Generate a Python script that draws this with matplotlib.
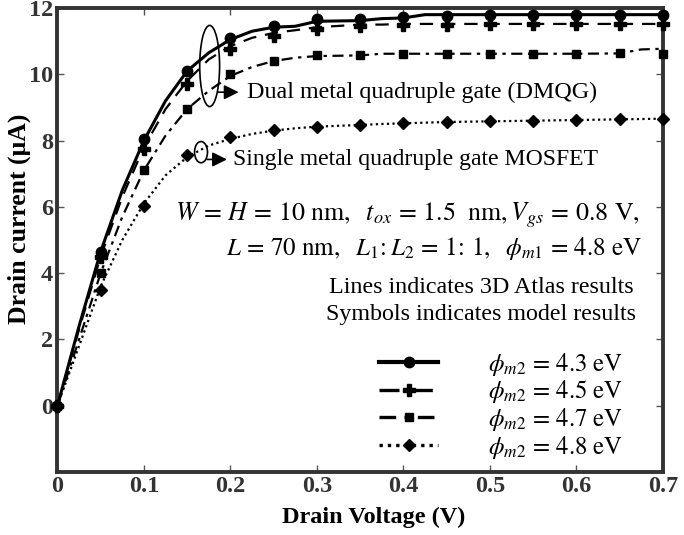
import matplotlib
matplotlib.use("Agg")
import matplotlib.pyplot as plt
from matplotlib.patches import Ellipse

plt.rcParams['font.family'] = ['Liberation Serif', 'DejaVu Serif']
plt.rcParams['mathtext.fontset'] = 'stix'

# model results (symbols)
vd_model = [0, 0.05, 0.1, 0.15, 0.2, 0.25, 0.3, 0.35, 0.4, 0.45, 0.5, 0.55, 0.6, 0.65, 0.7]
m43 = [0, 4.65, 8.05, 10.1, 11.1, 11.45, 11.68, 11.68, 11.73, 11.75, 11.78, 11.78, 11.78, 11.78, 11.8]
m45 = [0, 4.5, 7.75, 9.7, 10.75, 11.15, 11.37, 11.45, 11.5, 11.5, 11.52, 11.52, 11.52, 11.52, 11.52]
m47 = [0, 4.0, 7.1, 8.95, 10.0, 10.4, 10.57, 10.58, 10.6, 10.6, 10.6, 10.6, 10.6, 10.63, 10.62]
m48 = [0, 3.5, 6.03, 7.55, 8.12, 8.33, 8.42, 8.47, 8.52, 8.56, 8.58, 8.6, 8.62, 8.64, 8.66]

# 3D Atlas results (lines)
vd_line = [0, 0.025, 0.05, 0.075, 0.1, 0.125, 0.15, 0.175, 0.2, 0.225, 0.25, 0.275, 0.3,
           0.35, 0.375, 0.4, 0.425, 0.45, 0.5, 0.55, 0.6, 0.65, 0.675, 0.7]
l43 = [0, 2.4, 4.65, 6.5, 8.0, 9.2, 10.1, 10.65, 11.05, 11.3, 11.42, 11.45, 11.6,
       11.62, 11.68, 11.7, 11.8, 11.8, 11.8, 11.8, 11.8, 11.8, 11.8, 11.8]
l45 = [0, 2.3, 4.5, 6.3, 7.8, 8.95, 9.8, 10.45, 10.85, 11.1, 11.25, 11.33, 11.42,
       11.5, 11.5, 11.52, 11.52, 11.52, 11.52, 11.52, 11.52, 11.52, 11.52, 11.52]
l47 = [0, 2.0, 4.0, 5.7, 7.1, 8.15, 8.95, 9.5, 9.95, 10.22, 10.4, 10.5, 10.55,
       10.57, 10.62, 10.62, 10.62, 10.62, 10.62, 10.62, 10.62, 10.63, 10.75, 10.77]
l48 = [0, 1.8, 3.6, 5.0, 6.1, 6.95, 7.5, 7.85, 8.05, 8.2, 8.3, 8.37, 8.42,
       8.47, 8.5, 8.52, 8.54, 8.56, 8.58, 8.6, 8.62, 8.64, 8.65, 8.66]

labels = [r'$\phi_{m2}\,=\,4.3\ \mathrm{eV}$', r'$\phi_{m2}\,=\,4.5\ \mathrm{eV}$',
          r'$\phi_{m2}\,=\,4.7\ \mathrm{eV}$', r'$\phi_{m2}\,=\,4.8\ \mathrm{eV}$']
xticks = [0, 0.1, 0.2, 0.3, 0.4, 0.5, 0.6, 0.7]
xticklabels = ['0', '0.1', '0.2', '0.3', '0.4', '0.5', '0.6', '0.7']
yticks = [0, 2, 4, 6, 8, 10, 12]

fig = plt.figure(figsize=(6.84, 5.35), dpi=100)
ax = fig.add_axes([0.084, 0.118, 0.885, 0.867])

styles = [
    dict(ls='-', lw=2.2, marker='o', ms=7.5),
    dict(ls=(0, (6, 4)), lw=1.6, marker='P', ms=8),
    dict(ls=(0, (5, 2.5, 1.5, 2.5)), lw=1.6, marker='s', ms=5.5),
    dict(ls=(0, (1, 1.5)), lw=1.6, marker='D', ms=6),
]
lines_data = [l43, l45, l47, l48]
model_data = [m43, m45, m47, m48]
for ld, md, st, lab in zip(lines_data, model_data, styles, labels):
    ax.plot(vd_line, ld, color='k', ls=st['ls'], lw=st['lw'], clip_on=False, zorder=3)
    ax.plot(vd_model, md, color='k', ls='none', marker=st['marker'], ms=st['ms'],
            clip_on=False, zorder=4)
    ax.plot([], [], color='k', ls=st['ls'], lw=st['lw'] + 0.8, marker=st['marker'],
            ms=st['ms'], label=lab)

ax.set_xlim(0, 0.7)
ax.set_ylim(-2, 12)
ax.set_xticks(xticks)
ax.set_xticklabels(xticklabels)
ax.set_yticks(yticks)
ax.tick_params(direction='in', top=True, right=True, length=5, width=1,
               color='#555555', labelsize=17.5)
ax.tick_params(axis='x', pad=3)
ax.tick_params(axis='y', pad=3)
for lbl in ax.get_xticklabels() + ax.get_yticklabels():
    lbl.set_fontweight('bold')
    lbl.set_color('#333333')
for sp in ax.spines.values():
    sp.set_linewidth(2.8)
    sp.set_color('#333333')

ax.set_xlabel('Drain Voltage (V)', fontsize=17.5, fontweight='bold')
ax.set_ylabel('Drain current (μA)', fontsize=18.5, fontweight='bold')
ax.xaxis.set_label_coords(0.523, -0.076)
ax.yaxis.set_label_coords(-0.043, 0.545)

# annotations
ax.add_patch(Ellipse((0.176, 10.25), 0.023, 2.45, fill=False, lw=1.2, color='k', zorder=5))
ax.add_patch(Ellipse((0.166, 7.65), 0.015, 0.64, fill=False, lw=1.2, color='k', zorder=5))
ax.annotate('', xy=(0.2095, 9.46), xytext=(0.1855, 9.46),
            arrowprops=dict(arrowstyle='-|>', color='k', lw=1.2, mutation_scale=22,
                            shrinkA=0, shrinkB=0))
ax.annotate('', xy=(0.196, 7.43), xytext=(0.173, 7.43),
            arrowprops=dict(arrowstyle='-|>', color='k', lw=1.2, mutation_scale=22,
                            shrinkA=0, shrinkB=0))
ax.text(0.219, 9.46, 'Dual metal quadruple gate (DMQG)', fontsize=17.3, va='center', ha='left')
ax.text(0.203, 7.43, 'Single metal quadruple gate MOSFET', fontsize=17.1, va='center', ha='left')

ax.text(0.673, 5.74,
        r'$W\,=\,H\,=\,10\ \mathrm{nm},\ \ t_{ox}\,=\,1.5\ \ \mathrm{nm},V_{gs}\,=\,0.8\ \mathrm{V},$',
        fontsize=18.6, ha='right', va='center')
ax.text(0.676, 4.74,
        r'$L\,=\,70\ \mathrm{nm},\ \ L_1\!:L_2\,=\,1\!:\,1,\ \ \phi_{m1}\,=\,4.8\ \mathrm{eV}$',
        fontsize=18.0, ha='right', va='center')
ax.text(0.49, 3.56, 'Lines indicates 3D Atlas results', fontsize=17.3, ha='center', va='center')
ax.text(0.49, 2.75, 'Symbols indicates model results', fontsize=17.3, ha='center', va='center')

ax.legend(loc='upper left', bbox_to_anchor=(0.531, 0.261), frameon=False, fontsize=17.8,
          handlelength=2.4, handletextpad=2.0, labelspacing=0.025, borderpad=0,
          borderaxespad=0)

fig.savefig('out.png', dpi=100)
